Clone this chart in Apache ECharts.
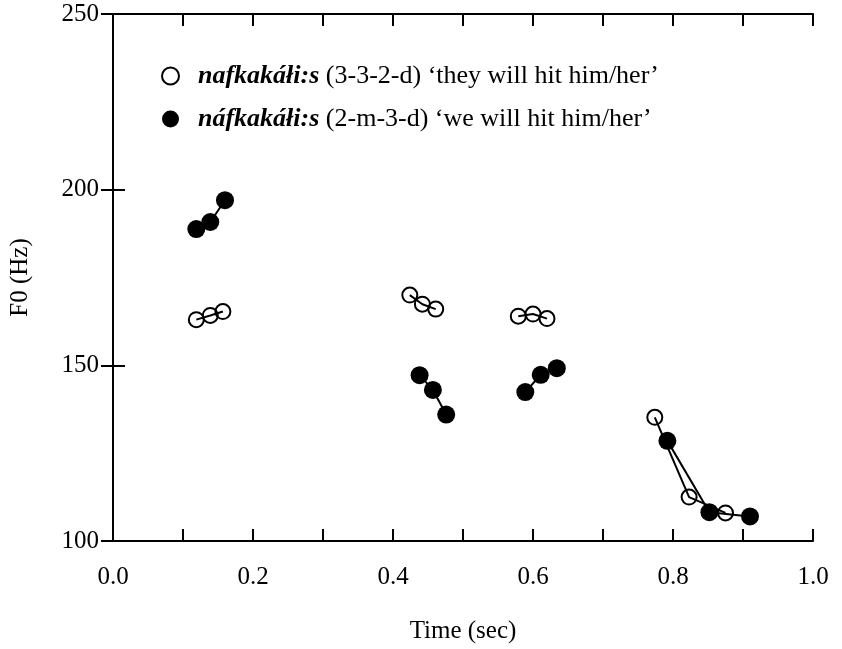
<!DOCTYPE html>
<html>
<head>
<meta charset="utf-8">
<script src="https://cdn.jsdelivr.net/npm/echarts@6/dist/echarts.min.js"></script>
<style>
  html, body { margin: 0; padding: 0; background: #fff; }
  #chart { width: 842px; height: 649px; }
</style>
</head>
<body>
<div id="chart"></div>
<script>
// time (sec), F0 (Hz) - each segment is one syllable's track
var openSegments = [
    [[0.119, 163], [0.139, 164.2], [0.157, 165.3]],
    [[0.424, 170], [0.442, 167.4], [0.461, 166]],
    [[0.579, 164], [0.600, 164.6], [0.620, 163.3]],
    [[0.774, 135.2], [0.823, 112.5], [0.875, 108]]
];
var filledSegments = [
    [[0.119, 188.8], [0.139, 190.8], [0.160, 197]],
    [[0.438, 147.2], [0.457, 143], [0.476, 136]],
    [[0.589, 142.4], [0.611, 147.3], [0.634, 149.2]],
    [[0.792, 128.5], [0.852, 108.2], [0.910, 107]]
];
var xTicks = [0, 1, 0.1];
var yTicks = [100, 250, 50];
var openLabel = '{i|nafkakáłi:s} (3-3-2-d) ‘they will hit him/her’';
var filledLabel = '{i|náfkakáłi:s} (2-m-3-d) ‘we will hit him/her’';

var font = 'Liberation Serif';
var fs = 25;
var chart = echarts.init(document.getElementById('chart'));

var series = [];
openSegments.forEach(function (seg) {
    series.push({
        name: 'open',
        type: 'line',
        data: seg,
        symbol: 'circle',
        symbolSize: 15,
        itemStyle: { color: 'rgba(0,0,0,0)', borderColor: '#000', borderWidth: 2 },
        lineStyle: { color: '#000', width: 2 },
        emphasis: { disabled: true },
        animation: false,
        z: 2
    });
});
filledSegments.forEach(function (seg) {
    series.push({
        name: 'filled',
        type: 'line',
        data: seg,
        symbol: 'circle',
        symbolSize: 18,
        itemStyle: { color: '#000' },
        lineStyle: { color: '#000', width: 2 },
        emphasis: { disabled: true },
        animation: false,
        z: 3
    });
});

var axisLine = { show: true, lineStyle: { color: '#000', width: 2 } };
var tick = { show: true, inside: true, length: 12, lineStyle: { color: '#000', width: 2 } };

var option = {
    backgroundColor: '#fff',
    grid: { left: 112, right: 29, top: 14, bottom: 106 },
    legend: {
        orient: 'vertical',
        left: 156,
        top: 58,
        itemWidth: 17,
        itemHeight: 17,
        itemGap: 17,
        data: [
            { name: 'open', icon: 'circle',
              itemStyle: { color: '#fff', borderColor: '#000', borderWidth: 2 } },
            { name: 'filled', icon: 'circle', itemStyle: { color: '#000' } }
        ],
        formatter: function (name) {
            return name === 'open' ? openLabel : filledLabel;
        },
        textStyle: {
            fontFamily: font, fontSize: 26, color: '#000', padding: [0, 0, 0, 14],
            rich: { i: { fontFamily: font, fontSize: 26, fontStyle: 'italic', fontWeight: 'bold', color: '#000' } }
        },
        selectedMode: false
    },
    xAxis: [{
        type: 'value',
        min: xTicks[0], max: xTicks[1], interval: xTicks[2],
        name: 'Time (sec)',
        nameLocation: 'middle',
        nameGap: 78,
        nameTextStyle: { fontFamily: font, fontSize: fs, color: '#000' },
        axisLine: axisLine,
        axisTick: tick,
        splitLine: { show: false },
        axisLabel: {
            fontFamily: font, fontSize: fs, color: '#000', margin: 24,
            formatter: function (v) {
                return Math.round(v * 10) % 2 === 0 ? v.toFixed(1) : '';
            }
        }
    }, {
        type: 'value', position: 'top',
        min: xTicks[0], max: xTicks[1], interval: xTicks[2],
        axisLine: axisLine, axisTick: tick,
        splitLine: { show: false }, axisLabel: { show: false }
    }],
    yAxis: [{
        type: 'value',
        min: yTicks[0], max: yTicks[1], interval: yTicks[2],
        name: 'F0 (Hz)',
        nameLocation: 'middle',
        nameGap: 80,
        nameTextStyle: { fontFamily: font, fontSize: fs, color: '#000' },
        axisLine: axisLine,
        axisTick: tick,
        splitLine: { show: false },
        axisLabel: { fontFamily: font, fontSize: fs, color: '#000', margin: 14 }
    }, {
        type: 'value', position: 'right',
        min: yTicks[0], max: yTicks[1], interval: yTicks[2],
        axisLine: axisLine, axisTick: tick,
        splitLine: { show: false }, axisLabel: { show: false }
    }],
    series: series
};
chart.setOption(option);
</script>
</body>
</html>
